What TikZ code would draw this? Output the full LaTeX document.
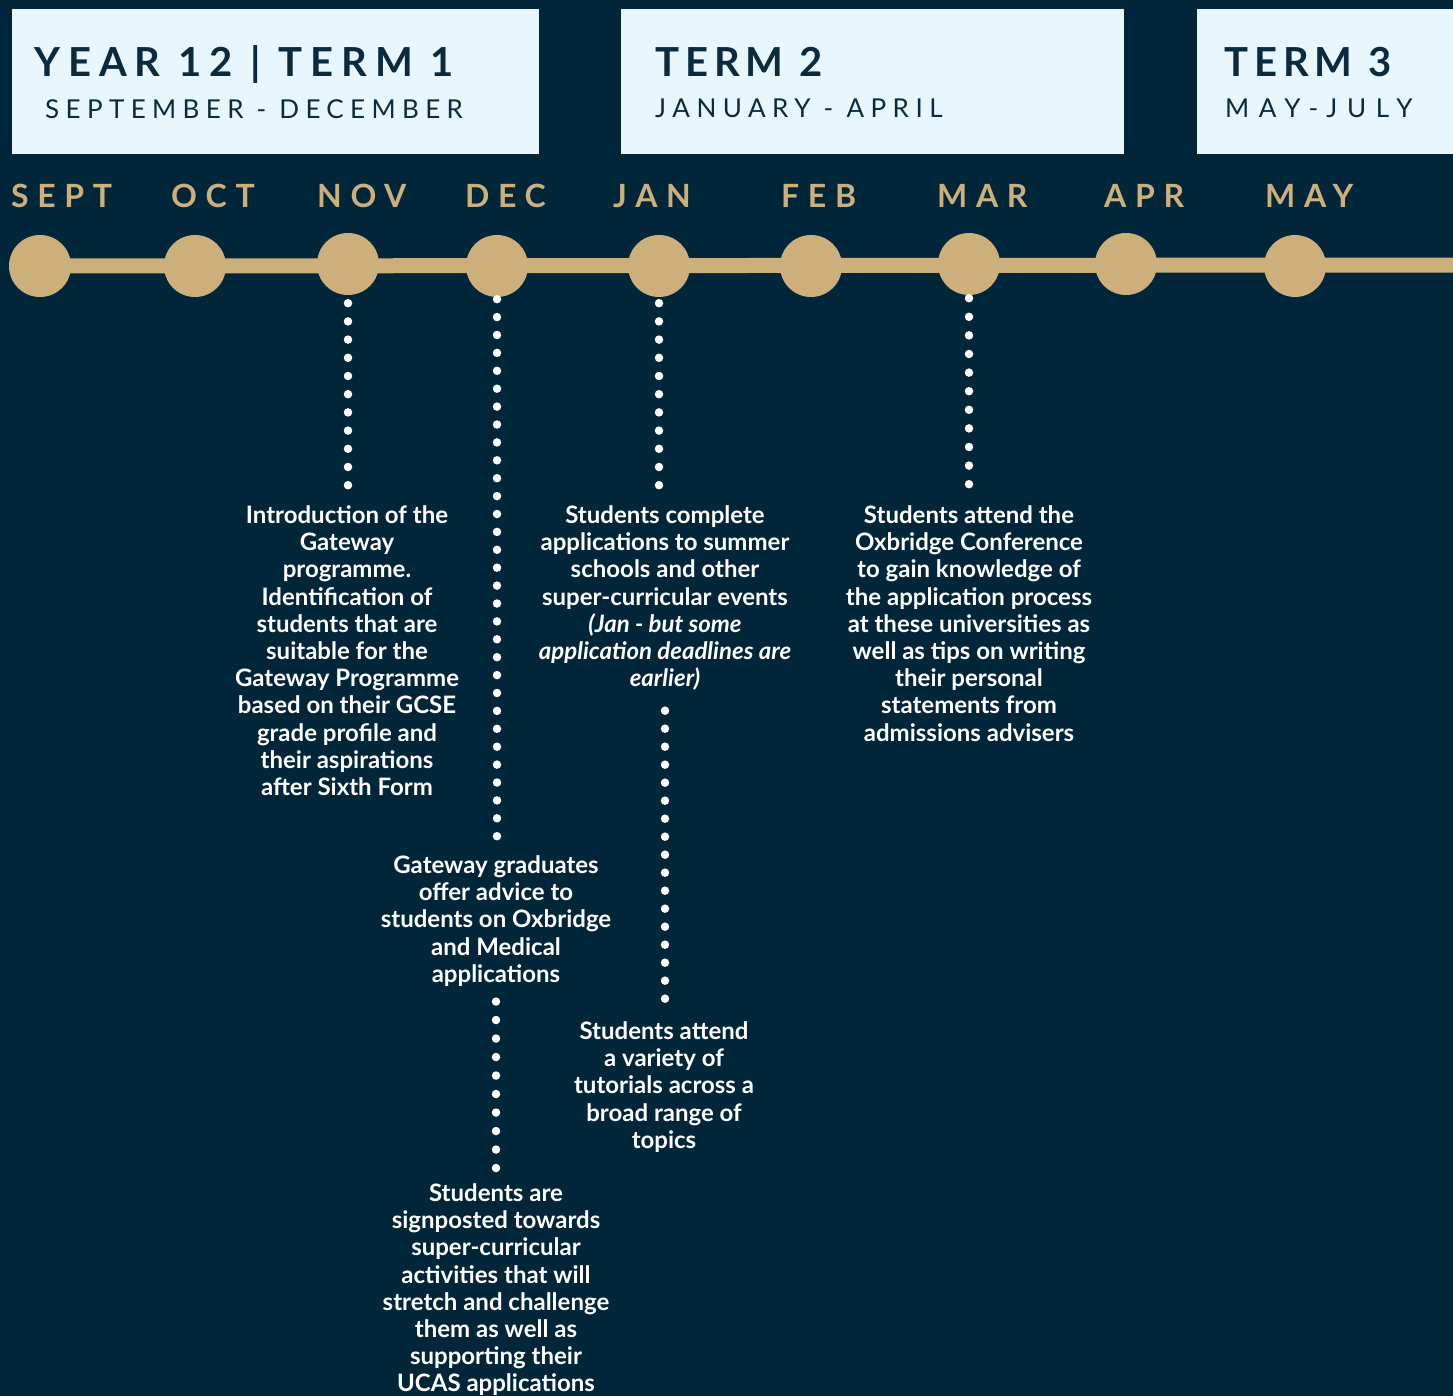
\documentclass[tikz,border=0pt]{standalone}
\usepackage{fontspec}
\setmainfont{Lato}
\definecolor{bg}{HTML}{012639}
\definecolor{boxc}{HTML}{E8F6FD}
\definecolor{gold}{HTML}{CCAF7B}
\definecolor{ink}{HTML}{0B2A3E}
\tikzset{
  termbox/.style={fill=boxc, draw=none, inner sep=0, anchor=north west},
  ttl/.style={text=ink, inner sep=0, anchor=base west, font=\fontsize{40}{48}\selectfont\bfseries\addfontfeatures{LetterSpace=15}},
  sub/.style={text=ink, inner sep=0, anchor=base west, font=\fontsize{26}{30}\selectfont\addfontfeatures{LetterSpace=24.5}},
  month/.style={text=gold, inner sep=0, anchor=base west, font=\fontsize{32}{36}\selectfont\bfseries\addfontfeatures{LetterSpace=27}},
  dotc/.style={circle, fill=gold, minimum size=62, inner sep=0},
  evt/.style={text=white, align=center, inner sep=0, anchor=north, font=\fontsize{24}{27.2}\selectfont\bfseries},
  dotline/.style={draw=white, line width=8.5, line cap=round, dash pattern=on 0pt off 18.2pt},
  tline/.style={draw=gold, line width=15}
}
\begin{document}
\begin{tikzpicture}[x=1pt,y=-1pt]
\fill[bg] (0,0) rectangle (1453,1396);
\useasboundingbox (0,0) rectangle (1453,1396);

% term boxes
\node[termbox, minimum width=527, minimum height=145] (box1) at (12,9) {};
\node[termbox, minimum width=503, minimum height=145] (box2) at (621,9) {};
\node[termbox, minimum width=280, minimum height=145] (box3) at (1197,9) {};
\node[ttl, font=\fontsize{40}{48}\selectfont\bfseries\addfontfeatures{LetterSpace=20}] (t1) at (34,77) {YEAR 12 | TERM 1};
\node[sub] (s1) at (45,119) {SEPTEMBER - DECEMBER};
\node[ttl] (t2) at (655,77) {TERM 2};
\node[sub, font=\fontsize{26}{30}\selectfont\addfontfeatures{LetterSpace=25}] (s2) at (655,118) {JANUARY - APRIL};
\node[ttl] (t3) at (1224,77) {TERM 3};
\node[sub, font=\fontsize{26}{30}\selectfont\addfontfeatures{LetterSpace=37}] (s3) at (1225,118) {MAY-JULY};

% months
\node[month] (lsep) at (11,208) {SEPT};
\node[month] (loct) at (171,208) {OCT};
\node[month] (lnov) at (317,208) {NOV};
\node[month] (ldec) at (465,208) {DEC};
\node[month] (ljan) at (613,208) {JAN};
\node[month] (lfeb) at (781,208) {FEB};
\node[month] (lmar) at (937,208) {MAR};
\node[month] (lapr) at (1104,208) {APR};
\node[month] (lmay) at (1265,208) {MAY};

% timeline
\coordinate (lineend) at (1460,265);
\node[dotc] (sep) at (40,266) {};
\draw[tline] (sep.center) -- (lineend);
\node[dotc] (oct) at (195,266) {};
\node[dotc] (nov) at (348,264) {};
\node[dotc] (dec) at (497,266) {};
\node[dotc] (jan) at (659,266) {};
\node[dotc] (feb) at (811,266) {};
\node[dotc] (mar) at (969,264) {};
\node[dotc] (apr) at (1126,264) {};
\node[dotc] (may) at (1295,266) {};

% events
\node[evt] (novtext) at (347,505.5) {Introduction of the\\Gateway\\programme.\\Identification of\\students that are\\suitable for the\\Gateway Programme\\based on their GCSE\\grade profile and\\their aspirations\\after Sixth Form};
\node[evt] (jantext) at (665,505.5) {Students complete\\applications to summer\\schools and other\\super-curricular events\\\itshape(Jan - but some\\\itshape application deadlines are\\\itshape earlier)};
\node[evt] (martext) at (969,505.5) {Students attend the\\Oxbridge Conference\\to gain knowledge of\\the application process\\at these universities as\\well as tips on writing\\their personal\\statements from\\admissions advisers};
\node[evt] (gradtext) at (496,855.5) {Gateway graduates\\offer advice to\\students on Oxbridge\\and Medical\\applications};
\node[evt] (tuttext) at (664,1021.5) {Students attend\\a variety of\\tutorials across a\\broad range of\\topics};
\node[evt] (sigtext) at (496,1183.5) {Students are\\signposted towards\\super-curricular\\activities that will\\stretch and challenge\\them as well as\\supporting their\\UCAS applications};

% dotted connectors
\draw[dotline, shorten <=8, shorten >=18] (nov.south) -- (nov.south |- novtext.north);
\draw[dotline, dash pattern=on 0pt off 17.9pt, shorten <=2, shorten >=16] (dec.south) -- (dec.south |- gradtext.north);
\draw[dotline, dash pattern=on 0pt off 18.5pt, shorten <=15, shorten >=14] (gradtext.south) -- (gradtext.south |- sigtext.north);
\draw[dotline, shorten <=6, shorten >=18] (jan.south) -- (jan.south |- jantext.north);
\draw[dotline, dash pattern=on 0pt off 18pt, shorten <=20, shorten >=21] (jantext.south) -- (jantext.south |- tuttext.north);
\draw[dotline, dash pattern=on 0pt off 18.6pt, shorten <=3, shorten >=20] (mar.south) -- (mar.south |- martext.north);
\end{tikzpicture}
\end{document}
